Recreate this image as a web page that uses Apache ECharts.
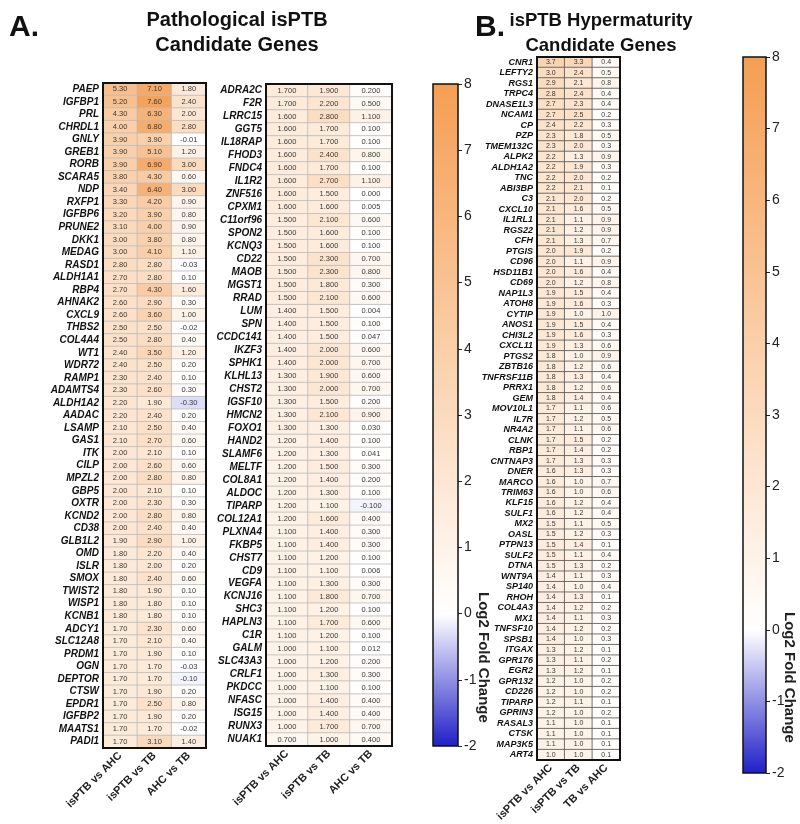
<!DOCTYPE html>
<html><head><meta charset="utf-8">
<script src="https://cdn.jsdelivr.net/npm/echarts@6/dist/echarts.min.js"></script>
<style>html,body{margin:0;padding:0;background:#fff}#c{width:800px;height:824px}</style>
</head><body><div id="c"></div>
<script>
const catsA = ['isPTB vs AHC','isPTB vs TB','AHC vs TB'];
const catsB = ['isPTB vs AHC','isPTB vs TB','TB vs AHC'];
const colorTicks = [-2,-1,0,1,2,3,4,5,6,7,8];

const genesA1 = ['PAEP','IGFBP1','PRL','CHRDL1','GNLY','GREB1','RORB','SCARA5','NDP','RXFP1','IGFBP6','PRUNE2','DKK1','MEDAG','RASD1','ALDH1A1','RBP4','AHNAK2','CXCL9','THBS2','COL4A4','WT1','WDR72','RAMP1','ADAMTS4','ALDH1A2','AADAC','LSAMP','GAS1','ITK','CILP','MPZL2','GBP5','OXTR','KCND2','CD38','GLB1L2','OMD','ISLR','SMOX','TWIST2','WISP1','KCNB1','ADCY1','SLC12A8','PRDM1','OGN','DEPTOR','CTSW','EPDR1','IGFBP2','MAATS1','PADI1'];
const a1IsAHC = [5.3,5.2,4.3,4.0,3.9,3.9,3.9,3.8,3.4,3.3,3.2,3.1,3.0,3.0,2.8,2.7,2.7,2.6,2.6,2.5,2.5,2.4,2.4,2.3,2.3,2.2,2.2,2.1,2.1,2.0,2.0,2.0,2.0,2.0,2.0,2.0,1.9,1.8,1.8,1.8,1.8,1.8,1.8,1.7,1.7,1.7,1.7,1.7,1.7,1.7,1.7,1.7,1.7];
const a1IsTB  = [7.1,7.6,6.3,6.8,3.9,5.1,6.9,4.3,6.4,4.2,3.9,4.0,3.8,4.1,2.8,2.8,4.3,2.9,3.6,2.5,2.8,3.5,2.5,2.4,2.6,1.9,2.4,2.5,2.7,2.1,2.6,2.8,2.1,2.3,2.8,2.4,2.9,2.2,2.0,2.4,1.9,1.8,1.8,2.3,2.1,1.9,1.7,1.7,1.9,2.5,1.9,1.7,3.1];
const a1AHCTB = [1.8,2.4,2.0,2.8,-0.01,1.2,3.0,0.6,3.0,0.9,0.8,0.9,0.8,1.1,-0.03,0.1,1.6,0.3,1.0,-0.02,0.4,1.2,0.2,0.1,0.3,-0.3,0.2,0.4,0.6,0.1,0.6,0.8,0.1,0.3,0.8,0.4,1.0,0.4,0.2,0.6,0.1,0.1,0.1,0.6,0.4,0.1,-0.03,-0.1,0.2,0.8,0.2,-0.02,1.4];

const genesA2 = ['ADRA2C','F2R','LRRC15','GGT5','IL18RAP','FHOD3','FNDC4','IL1R2','ZNF516','CPXM1','C11orf96','SPON2','KCNQ3','CD22','MAOB','MGST1','RRAD','LUM','SPN','CCDC141','IKZF3','SPHK1','KLHL13','CHST2','IGSF10','HMCN2','FOXO1','HAND2','SLAMF6','MELTF','COL8A1','ALDOC','TIPARP','COL12A1','PLXNA4','FKBP5','CHST7','CD9','VEGFA','KCNJ16','SHC3','HAPLN3','C1R','GALM','SLC43A3','CRLF1','PKDCC','NFASC','ISG15','RUNX3','NUAK1'];
const a2IsAHC = [1.7,1.7,1.6,1.6,1.6,1.6,1.6,1.6,1.6,1.6,1.5,1.5,1.5,1.5,1.5,1.5,1.5,1.4,1.4,1.4,1.4,1.4,1.3,1.3,1.3,1.3,1.3,1.2,1.2,1.2,1.2,1.2,1.2,1.2,1.1,1.1,1.1,1.1,1.1,1.1,1.1,1.1,1.1,1.0,1.0,1.0,1.0,1.0,1.0,1.0,0.7];
const a2IsTB  = [1.9,2.2,2.8,1.7,1.7,2.4,1.7,2.7,1.5,1.6,2.1,1.6,1.6,2.3,2.3,1.8,2.1,1.5,1.5,1.5,2.0,2.0,1.9,2.0,1.5,2.1,1.3,1.4,1.3,1.5,1.4,1.3,1.1,1.6,1.4,1.4,1.2,1.1,1.3,1.8,1.2,1.7,1.2,1.1,1.2,1.3,1.1,1.4,1.4,1.7,1.0];
const a2AHCTB = [0.2,0.5,1.1,0.1,0.1,0.8,0.1,1.1,0.0,0.005,0.6,0.1,0.1,0.7,0.8,0.3,0.6,0.004,0.1,0.047,0.6,0.7,0.6,0.7,0.2,0.9,0.03,0.1,0.041,0.3,0.2,0.1,-0.1,0.4,0.3,0.3,0.1,0.006,0.3,0.7,0.1,0.6,0.1,0.012,0.2,0.3,0.1,0.4,0.4,0.7,0.4];

const genesB = ['CNR1','LEFTY2','RGS1','TRPC4','DNASE1L3','NCAM1','CP','PZP','TMEM132C','ALPK2','ALDH1A2','TNC','ABI3BP','C3','CXCL10','IL1RL1','RGS22','CFH','PTGIS','CD96','HSD11B1','CD69','NAP1L3','ATOH8','CYTIP','ANOS1','CHI3L2','CXCL11','PTGS2','ZBTB16','TNFRSF11B','PRRX1','GEM','MOV10L1','IL7R','NR4A2','CLNK','RBP1','CNTNAP3','DNER','MARCO','TRIM63','KLF15','SULF1','MX2','OASL','PTPN13','SULF2','DTNA','WNT9A','SP140','RHOH','COL4A3','MX1','TNFSF10','SPSB1','ITGAX','GPR176','EGR2','GPR132','CD226','TIPARP','GPRIN3','RASAL3','CTSK','MAP3K5','ART4'];
const bIsAHC = [3.7,3.0,2.9,2.8,2.7,2.7,2.4,2.3,2.3,2.2,2.2,2.2,2.2,2.1,2.1,2.1,2.1,2.1,2.0,2.0,2.0,2.0,1.9,1.9,1.9,1.9,1.9,1.9,1.8,1.8,1.8,1.8,1.8,1.7,1.7,1.7,1.7,1.7,1.7,1.6,1.6,1.6,1.6,1.6,1.5,1.5,1.5,1.5,1.5,1.4,1.4,1.4,1.4,1.4,1.4,1.4,1.3,1.3,1.3,1.2,1.2,1.2,1.2,1.1,1.1,1.1,1.0];
const bIsTB  = [3.3,2.4,2.1,2.4,2.3,2.5,2.2,1.8,2.0,1.3,1.9,2.0,2.1,2.0,1.6,1.1,1.2,1.3,1.9,1.1,1.6,1.2,1.5,1.6,1.0,1.5,1.6,1.3,1.0,1.2,1.3,1.2,1.4,1.1,1.2,1.1,1.5,1.4,1.3,1.3,1.0,1.0,1.2,1.2,1.1,1.2,1.4,1.1,1.3,1.1,1.0,1.3,1.2,1.1,1.2,1.0,1.2,1.1,1.2,1.0,1.0,1.1,1.0,1.0,1.0,1.0,1.0];
const bTBAHC = [0.4,0.5,0.8,0.4,0.4,0.2,0.3,0.5,0.3,0.9,0.3,0.2,0.1,0.2,0.5,0.9,0.9,0.7,0.2,0.9,0.4,0.8,0.4,0.3,1.0,0.4,0.3,0.6,0.9,0.6,0.4,0.6,0.4,0.6,0.5,0.6,0.2,0.2,0.3,0.3,0.7,0.6,0.4,0.4,0.5,0.3,0.1,0.4,0.2,0.3,0.4,0.1,0.2,0.3,0.2,0.3,0.1,0.2,0.1,0.2,0.2,0.1,0.2,0.1,0.1,0.1,0.1];

// colour scale: blue (-2) -> white (0) -> orange (8)
const BLUE=[31,31,200], WHITE=[255,255,255], ORANGE=[245,158,82];
function mix(a,b,t){return 'rgb('+a.map((v,i)=>Math.round(v+(b[i]-v)*t)).join(',')+')';}
function colorAt(v){ return v<0 ? mix(WHITE,BLUE,-v/2) : mix(WHITE,ORANGE,v/8); }
const scaleColors = colorTicks.map(colorAt);

function build(cols){const d=[];cols.forEach((arr,ci)=>arr.forEach((v,ri)=>d.push([ci,ri,v])));return d;}

const FONT='Arial, "Liberation Sans", sans-serif';
const NARROW='"Liberation Sans Narrow", "Arial Narrow", Arial, sans-serif';
const chart = echarts.init(document.getElementById('c'),null,{renderer:'canvas'});

const grids=[
 {left:103, top:83, width:103, height:665},
 {left:266, top:84, width:126, height:662},
 {left:433, top:84, width:25, height:662},
 {left:537, top:57, width:83, height:716},
 {left:743, top:57, width:23, height:716}
];
function xCat(gi,cats,show){return {type:'category',gridIndex:gi,data:cats,position:'bottom',
  axisLine:{show:false},axisTick:{show:false},splitLine:{show:false},
  axisLabel:{show:show,rotate:45,interval:0,fontSize:11,fontWeight:'bold',color:'#222',fontFamily:FONT,margin:6}};}
function yCat(gi,genes,fs){return {type:'category',gridIndex:gi,data:genes,inverse:true,
  axisLine:{show:false},axisTick:{show:false},splitLine:{show:false},
  axisLabel:{interval:0,fontSize:fs,fontWeight:'bold',fontStyle:'italic',color:'#111',fontFamily:FONT,margin:4}};}
function yColor(gi){return {type:'value',gridIndex:gi,position:'right',min:-2,max:8,interval:1,
  axisLine:{show:false},splitLine:{show:false},
  axisTick:{show:true,length:4,lineStyle:{color:'#222',width:1}},
  axisLabel:{fontSize:14,color:'#222',fontFamily:FONT,margin:6}};}

function heat(gi,data,dec,fs,border){return {type:'heatmap',xAxisIndex:gi,yAxisIndex:gi,data:data,
  label:{show:true,fontSize:fs,color:'#3a3a3a',fontFamily:FONT,formatter:p=>p.value[2].toFixed(dec)},
  itemStyle:{borderColor:border,borderWidth:0.8},emphasis:{disabled:true}};}
function frame(gi){return {type:'custom',xAxisIndex:gi,yAxisIndex:gi,data:[[0,0]],z:10,silent:true,
  renderItem:(params)=>{const c=params.coordSys;return {type:'rect',shape:{x:c.x,y:c.y,width:c.width,height:c.height},
    style:{fill:null,stroke:'#111',lineWidth:2}};}};}
function colorbar(gi){return {type:'custom',xAxisIndex:gi,yAxisIndex:gi,data:[[0,8]],silent:true,
  renderItem:(params,api)=>{const c=params.coordSys;
    const stops=colorTicks.map((t,i)=>({offset:(8-t)/10,color:scaleColors[i]}));
    return {type:'rect',shape:{x:c.x,y:c.y,width:c.width,height:c.height},
      style:{fill:new echarts.graphic.LinearGradient(0,0,0,1,stops),stroke:'#111',lineWidth:1.5}};}};}

const option={
  animation:false,
  backgroundColor:'#fff',
  title:[
    {text:'A.',left:4,top:8,textStyle:{fontSize:30,fontWeight:'bold',color:'#111',fontFamily:NARROW}},
    {text:'Pathological isPTB\nCandidate Genes',left:232,textAlign:'center',top:3,textStyle:{fontSize:20,fontWeight:'bold',color:'#111',fontFamily:NARROW,lineHeight:25}},
    {text:'B.',left:470,top:8,textStyle:{fontSize:30,fontWeight:'bold',color:'#111',fontFamily:NARROW}},
    {text:'isPTB Hypermaturity\nCandidate Genes',left:596,textAlign:'center',top:3,textStyle:{fontSize:18.5,fontWeight:'bold',color:'#111',fontFamily:NARROW,lineHeight:25}}
  ],
  grid:grids,
  xAxis:[xCat(0,catsA,true),xCat(1,catsA,true),{type:'category',gridIndex:2,data:[''],show:false},xCat(3,catsB,true),{type:'category',gridIndex:4,data:[''],show:false}],
  yAxis:[yCat(0,genesA1,10),yCat(1,genesA2,10),yColor(2),yCat(3,genesB,9),yColor(4)],
  visualMap:[{type:'continuous',show:false,min:-2,max:8,dimension:2,seriesIndex:[0,2,4],inRange:{color:scaleColors}}],
  series:[
    heat(0,build([a1IsAHC,a1IsTB,a1AHCTB]),2,7.5,'#bbb'), frame(0),
    heat(1,build([a2IsAHC,a2IsTB,a2AHCTB]),3,7.5,'#bbb'), frame(1),
    heat(3,build([bIsAHC,bIsTB,bTBAHC]),1,7,'#555'), frame(3),
    colorbar(2), colorbar(4)
  ],
  graphic:[
    {type:'text',left:476,top:592,rotation:-Math.PI/2,style:{text:'Log2 Fold Change',fontSize:15,fontWeight:'bold',fill:'#222',fontFamily:FONT}},
    {type:'text',left:782,top:612,rotation:-Math.PI/2,style:{text:'Log2 Fold Change',fontSize:15,fontWeight:'bold',fill:'#222',fontFamily:FONT}}
  ]
};
chart.setOption(option);
</script></body></html>
